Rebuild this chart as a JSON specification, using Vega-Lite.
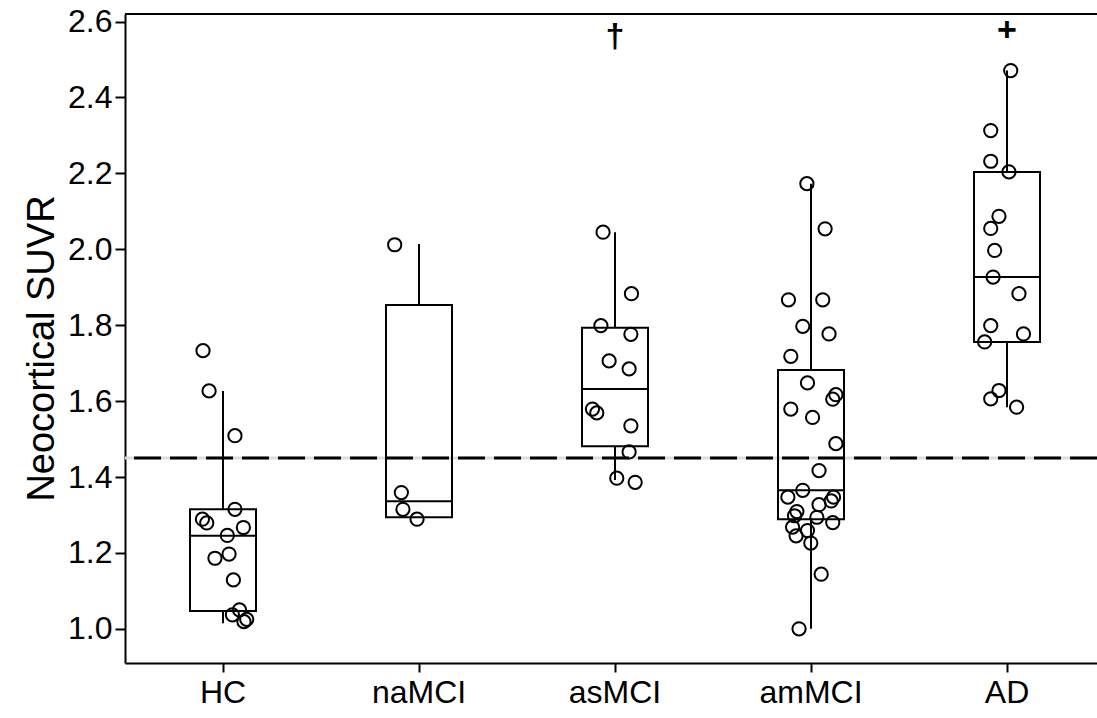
{
  "$schema": "https://vega.github.io/schema/vega-lite/v6.json",
  "width": 972,
  "height": 649,
  "autosize": {"type": "none"},
  "padding": {"left": 125, "top": 14, "right": 0, "bottom": 55},
  "background": "white",
  "config": {
    "view": {"stroke": null},
    "font": "Liberation Sans",
    "axis": {
      "domainColor": "black", "domainWidth": 2, "tickColor": "black", "tickWidth": 2,
      "labelColor": "black", "titleColor": "black", "labelFont": "Liberation Sans", "titleFont": "Liberation Sans",
      "grid": false
    }
  },
  "datasets": {
    "points": [
      {"group": "HC", "suvr": 1.733, "jitter": -0.102},
      {"group": "HC", "suvr": 1.627, "jitter": -0.071},
      {"group": "HC", "suvr": 1.509, "jitter": 0.061},
      {"group": "HC", "suvr": 1.315, "jitter": 0.061},
      {"group": "HC", "suvr": 1.289, "jitter": -0.105},
      {"group": "HC", "suvr": 1.279, "jitter": -0.083},
      {"group": "HC", "suvr": 1.267, "jitter": 0.104},
      {"group": "HC", "suvr": 1.246, "jitter": 0.022},
      {"group": "HC", "suvr": 1.197, "jitter": 0.031},
      {"group": "HC", "suvr": 1.186, "jitter": -0.041},
      {"group": "HC", "suvr": 1.129, "jitter": 0.053},
      {"group": "HC", "suvr": 1.050, "jitter": 0.084},
      {"group": "HC", "suvr": 1.037, "jitter": 0.048},
      {"group": "HC", "suvr": 1.025, "jitter": 0.121},
      {"group": "HC", "suvr": 1.019, "jitter": 0.107},
      {"group": "naMCI", "suvr": 2.012, "jitter": -0.124},
      {"group": "naMCI", "suvr": 1.359, "jitter": -0.090},
      {"group": "naMCI", "suvr": 1.315, "jitter": -0.082},
      {"group": "naMCI", "suvr": 1.289, "jitter": -0.010},
      {"group": "asMCI", "suvr": 2.045, "jitter": -0.061},
      {"group": "asMCI", "suvr": 1.883, "jitter": 0.084},
      {"group": "asMCI", "suvr": 1.799, "jitter": -0.072},
      {"group": "asMCI", "suvr": 1.776, "jitter": 0.081},
      {"group": "asMCI", "suvr": 1.706, "jitter": -0.030},
      {"group": "asMCI", "suvr": 1.685, "jitter": 0.072},
      {"group": "asMCI", "suvr": 1.579, "jitter": -0.115},
      {"group": "asMCI", "suvr": 1.569, "jitter": -0.093},
      {"group": "asMCI", "suvr": 1.535, "jitter": 0.081},
      {"group": "asMCI", "suvr": 1.466, "jitter": 0.072},
      {"group": "asMCI", "suvr": 1.397, "jitter": 0.009},
      {"group": "asMCI", "suvr": 1.386, "jitter": 0.103},
      {"group": "amMCI", "suvr": 2.173, "jitter": -0.021},
      {"group": "amMCI", "suvr": 2.054, "jitter": 0.072},
      {"group": "amMCI", "suvr": 1.867, "jitter": -0.115},
      {"group": "amMCI", "suvr": 1.867, "jitter": 0.060},
      {"group": "amMCI", "suvr": 1.797, "jitter": -0.042},
      {"group": "amMCI", "suvr": 1.777, "jitter": 0.092},
      {"group": "amMCI", "suvr": 1.718, "jitter": -0.103},
      {"group": "amMCI", "suvr": 1.648, "jitter": -0.018},
      {"group": "amMCI", "suvr": 1.617, "jitter": 0.127},
      {"group": "amMCI", "suvr": 1.605, "jitter": 0.111},
      {"group": "amMCI", "suvr": 1.579, "jitter": -0.103},
      {"group": "amMCI", "suvr": 1.557, "jitter": 0.008},
      {"group": "amMCI", "suvr": 1.488, "jitter": 0.127},
      {"group": "amMCI", "suvr": 1.417, "jitter": 0.041},
      {"group": "amMCI", "suvr": 1.365, "jitter": -0.042},
      {"group": "amMCI", "suvr": 1.347, "jitter": -0.118},
      {"group": "amMCI", "suvr": 1.347, "jitter": 0.115},
      {"group": "amMCI", "suvr": 1.337, "jitter": 0.103},
      {"group": "amMCI", "suvr": 1.327, "jitter": 0.041},
      {"group": "amMCI", "suvr": 1.309, "jitter": -0.072},
      {"group": "amMCI", "suvr": 1.298, "jitter": -0.084},
      {"group": "amMCI", "suvr": 1.294, "jitter": 0.030},
      {"group": "amMCI", "suvr": 1.280, "jitter": 0.111},
      {"group": "amMCI", "suvr": 1.268, "jitter": -0.094},
      {"group": "amMCI", "suvr": 1.259, "jitter": -0.018},
      {"group": "amMCI", "suvr": 1.245, "jitter": -0.076},
      {"group": "amMCI", "suvr": 1.226, "jitter": -0.001},
      {"group": "amMCI", "suvr": 1.144, "jitter": 0.052},
      {"group": "amMCI", "suvr": 1.000, "jitter": -0.061},
      {"group": "AD", "suvr": 2.471, "jitter": 0.019},
      {"group": "AD", "suvr": 2.313, "jitter": -0.083},
      {"group": "AD", "suvr": 2.232, "jitter": -0.083},
      {"group": "AD", "suvr": 2.204, "jitter": 0.010},
      {"group": "AD", "suvr": 2.087, "jitter": -0.041},
      {"group": "AD", "suvr": 2.055, "jitter": -0.083},
      {"group": "AD", "suvr": 1.997, "jitter": -0.063},
      {"group": "AD", "suvr": 1.927, "jitter": -0.071},
      {"group": "AD", "suvr": 1.883, "jitter": 0.061},
      {"group": "AD", "suvr": 1.799, "jitter": -0.083},
      {"group": "AD", "suvr": 1.777, "jitter": 0.084},
      {"group": "AD", "suvr": 1.756, "jitter": -0.114},
      {"group": "AD", "suvr": 1.628, "jitter": -0.041},
      {"group": "AD", "suvr": 1.606, "jitter": -0.083},
      {"group": "AD", "suvr": 1.584, "jitter": 0.049}
    ],
    "boxes": [
      {"group": "HC", "lower": 1.015, "q1": 1.047, "median": 1.245, "q3": 1.315, "upper": 1.627},
      {"group": "naMCI", "lower": 1.294, "q1": 1.294, "median": 1.336, "q3": 1.853, "upper": 2.014},
      {"group": "asMCI", "lower": 1.392, "q1": 1.481, "median": 1.632, "q3": 1.793, "upper": 2.045},
      {"group": "amMCI", "lower": 1.000, "q1": 1.289, "median": 1.365, "q3": 1.682, "upper": 2.173},
      {"group": "AD", "lower": 1.584, "q1": 1.756, "median": 1.927, "q3": 2.204, "upper": 2.471}
    ],
    "marks": [
      {"group": "asMCI", "sym": "†", "pos": 2.560},
      {"group": "AD", "sym": "+", "pos": 2.574}
    ],
    "lines": [
      {"threshold": 1.45, "frame": 2.62}
    ]
  },
  "layer": [
    {
      "data": {"name": "lines"},
      "mark": {"type": "rule", "color": "#dddddd", "strokeWidth": 3},
      "encoding": {"y": {"field": "threshold", "type": "quantitative", "scale": {"domain": [0.91, 2.62], "nice": false, "zero": false}}}
    },
    {
      "data": {"name": "lines"},
      "mark": {"type": "rule", "color": "black", "strokeWidth": 3, "strokeDash": [27, 9]},
      "encoding": {"y": {"field": "threshold", "type": "quantitative"}}
    },
    {
      "data": {"name": "lines"},
      "mark": {"type": "rule", "color": "black", "strokeWidth": 2},
      "encoding": {"y": {"field": "frame", "type": "quantitative"}}
    },
    {
      "data": {"name": "boxes"},
      "mark": {"type": "rule", "color": "black", "strokeWidth": 2},
      "encoding": {
        "x": {"field": "group", "type": "nominal", "sort": ["HC", "naMCI", "asMCI", "amMCI", "AD"],
              "scale": {"type": "band", "paddingInner": 0, "paddingOuter": 0, "range": [0, 980]},
              "axis": {"title": null, "labelFontSize": 32, "labelAngle": 0, "tickSize": 9, "labelPadding": 5}},
        "y": {"field": "lower", "type": "quantitative",
              "axis": {"title": "Neocortical SUVR", "titleFontSize": 38, "titleFontWeight": "normal", "titlePadding": 6, "titleY": 334,
                       "values": [1.0, 1.2, 1.4, 1.6, 1.8, 2.0, 2.2, 2.4, 2.6], "format": ".1f", "labelFontSize": 32, "tickSize": 10, "labelPadding": 3}},
        "y2": {"field": "q1"}
      }
    },
    {
      "data": {"name": "boxes"},
      "mark": {"type": "rule", "color": "black", "strokeWidth": 2},
      "encoding": {
        "x": {"field": "group", "type": "nominal", "sort": ["HC", "naMCI", "asMCI", "amMCI", "AD"]},
        "y": {"field": "q3", "type": "quantitative"},
        "y2": {"field": "upper"}
      }
    },
    {
      "data": {"name": "boxes"},
      "mark": {"type": "bar", "fill": null, "fillOpacity": 0, "stroke": "black", "strokeWidth": 2, "width": 66},
      "encoding": {
        "x": {"field": "group", "type": "nominal", "sort": ["HC", "naMCI", "asMCI", "amMCI", "AD"]},
        "y": {"field": "q1", "type": "quantitative"},
        "y2": {"field": "q3"}
      }
    },
    {
      "data": {"name": "boxes"},
      "mark": {"type": "tick", "color": "black", "opacity": 1, "thickness": 2, "size": 66},
      "encoding": {
        "x": {"field": "group", "type": "nominal", "sort": ["HC", "naMCI", "asMCI", "amMCI", "AD"]},
        "y": {"field": "median", "type": "quantitative"}
      }
    },
    {
      "data": {"name": "points"},
      "mark": {"type": "point", "shape": "circle", "filled": false, "color": "black", "strokeWidth": 2, "size": 175, "opacity": 1},
      "encoding": {
        "x": {"field": "group", "type": "nominal", "sort": ["HC", "naMCI", "asMCI", "amMCI", "AD"]},
        "xOffset": {"field": "jitter", "type": "quantitative", "scale": {"domain": [-0.5, 0.5], "range": [0, 196]}},
        "y": {"field": "suvr", "type": "quantitative"}
      }
    },
    {
      "data": {"name": "marks"},
      "mark": {"type": "text", "color": "black", "fontSize": 34, "fontWeight": "bold", "baseline": "middle", "align": "center"},
      "encoding": {
        "x": {"field": "group", "type": "nominal", "sort": ["HC", "naMCI", "asMCI", "amMCI", "AD"]},
        "y": {"field": "pos", "type": "quantitative"},
        "text": {"field": "sym"}
      }
    }
  ]
}
